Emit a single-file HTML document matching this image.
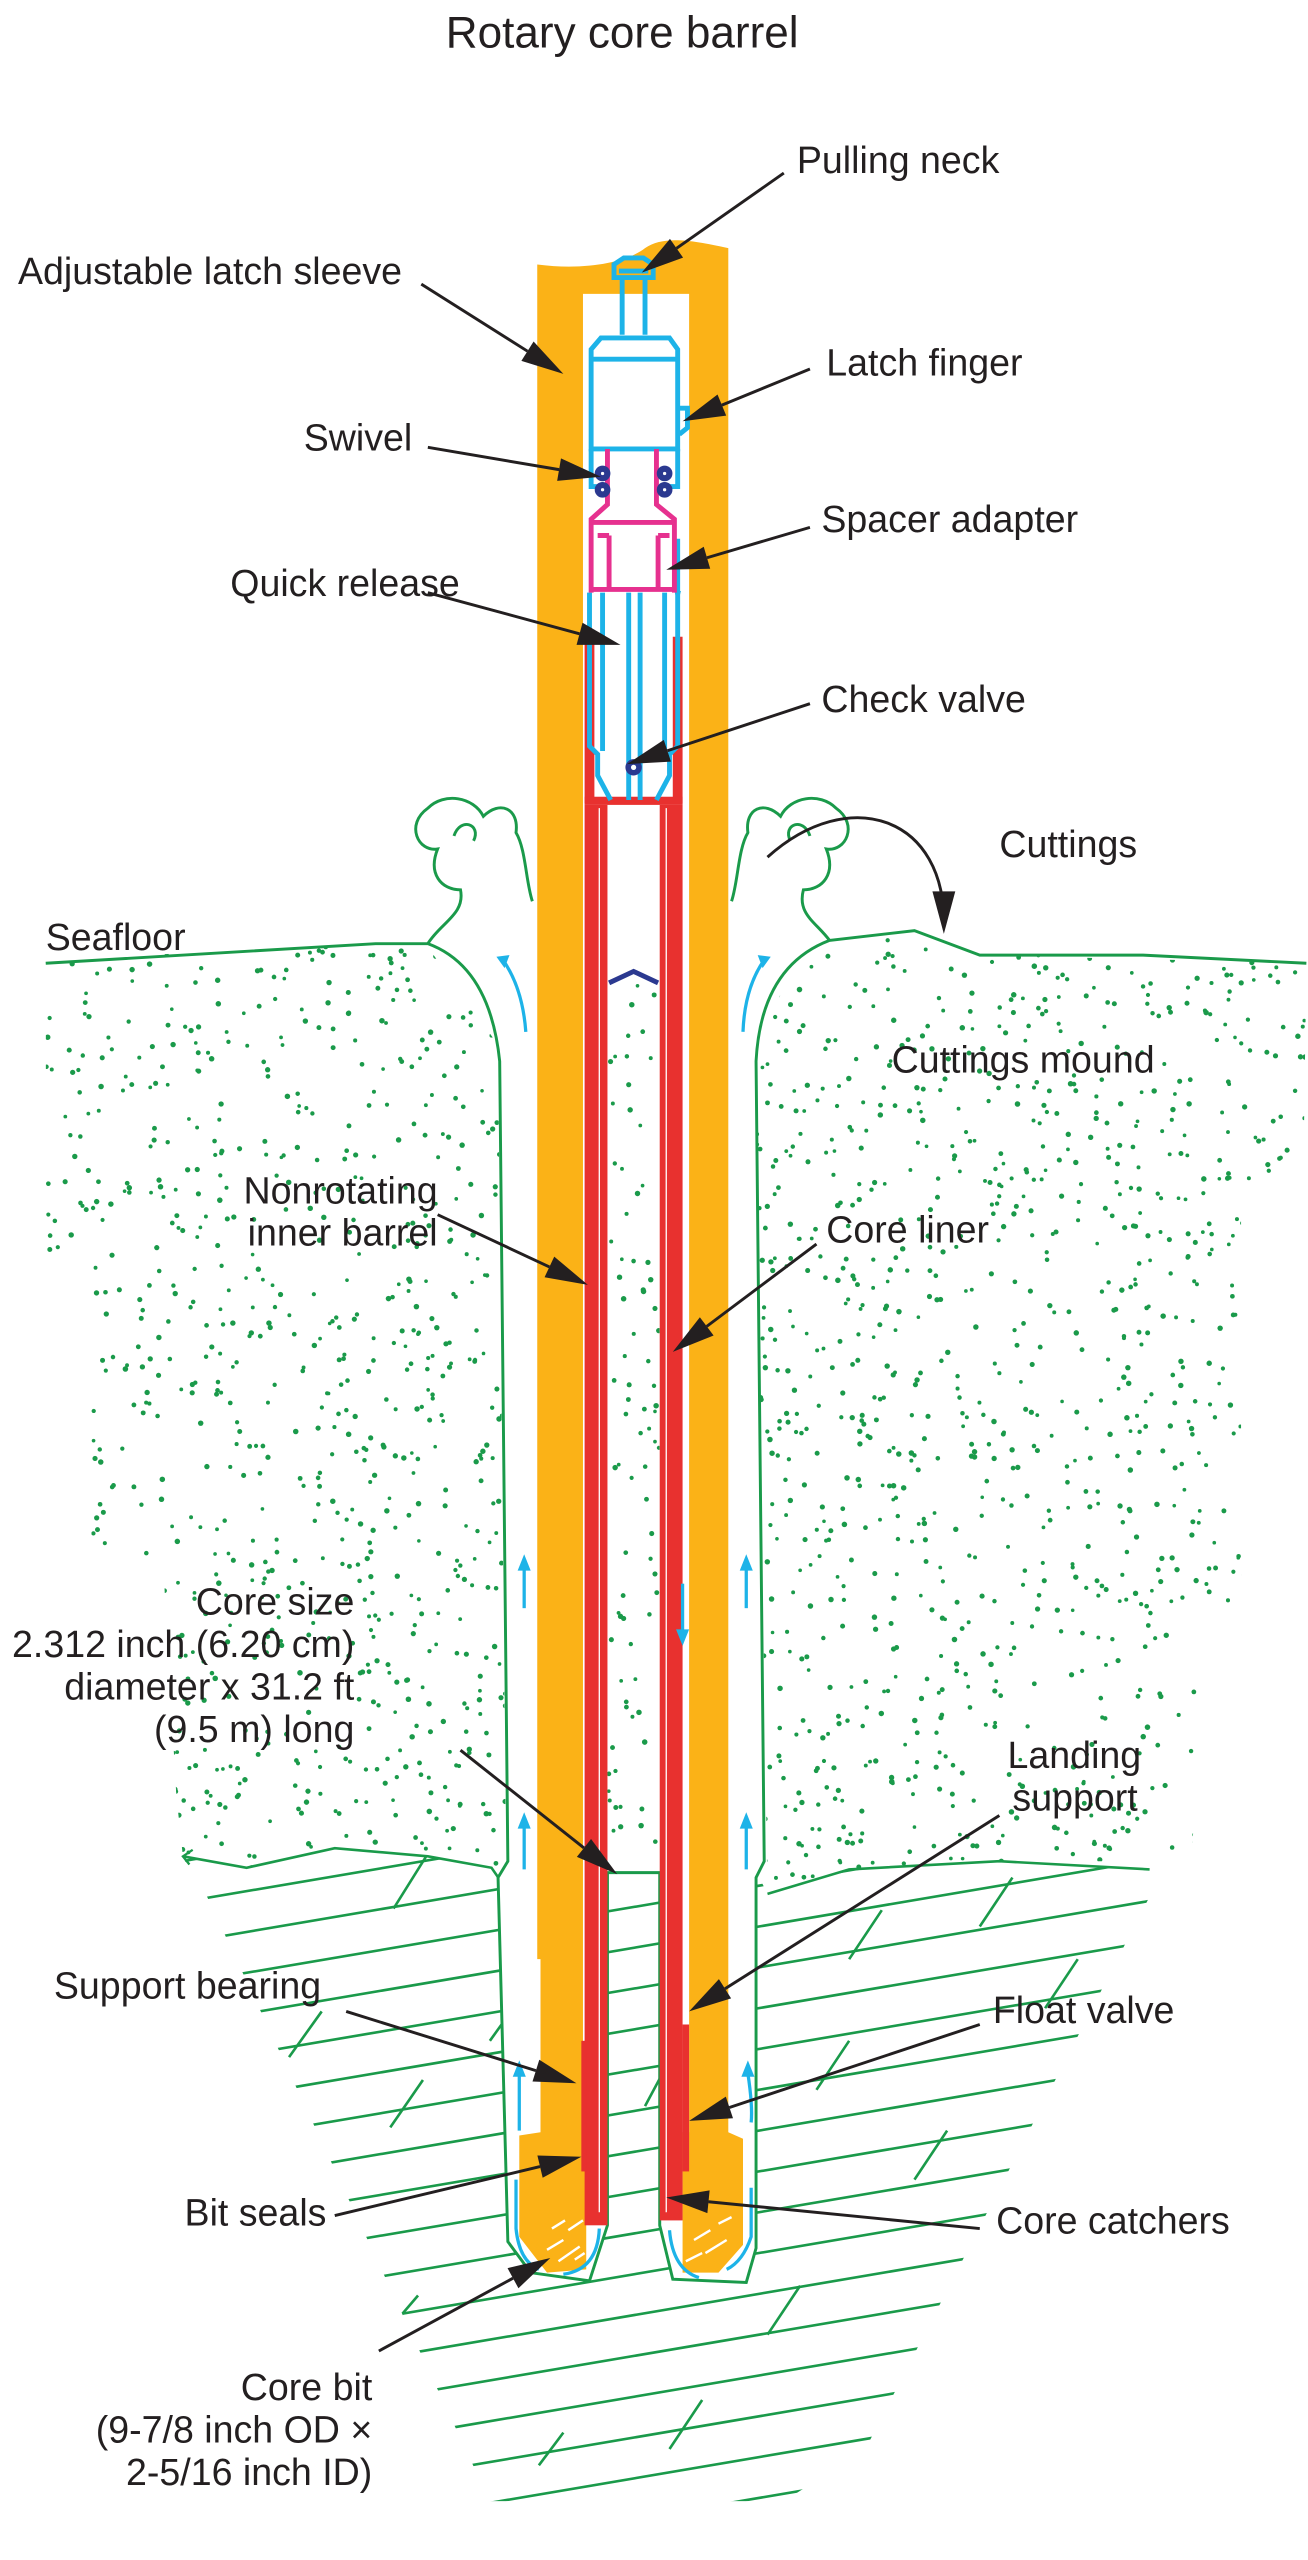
<!DOCTYPE html>
<html><head><meta charset="utf-8"><style>
html,body{margin:0;padding:0;background:#fff;width:1308px;height:2560px;overflow:hidden}
svg{display:block}
text{font-family:"Liberation Sans",Arial,sans-serif;fill:#231f20}
</style></head><body>
<svg id="s" xmlns="http://www.w3.org/2000/svg" width="1308" height="2560" viewBox="0 0 801 1568" preserveAspectRatio="none">
<defs>
<clipPath id="rockc"><polygon points="112,1137 151,1144 205,1132 262,1137 301,1144 310,1157 465,1150 470,1160 520,1145 612,1140 704,1145 710,1150 530,1500 480,1532 300,1532 126,1160 118,1150"/></clipPath>
<clipPath id="sandl"><polygon points="28,588 230,578 262,580 305,640 310,1157 301,1144 262,1137 205,1132 151,1144 112,1137 108,1100 100,960 56,950 56,780 28,770"/></clipPath>
<clipPath id="sandr"><polygon points="490,578 560,570 600,585 800,590 798,730 760,740 760,980 735,1000 730,1140 612,1140 520,1145 470,1160 462,650"/></clipPath>
<clipPath id="corec"><rect x="372" y="600" width="32" height="545"/></clipPath>
</defs>

<text x="273" y="29" font-size="27">Rotary core barrel</text>

<g id="dots" fill="#1a9a4a"></g>
<g id="hatch" clip-path="url(#rockc)" stroke="#1a9a4a" stroke-width="1.6" fill="none"></g>
<path d="M112,1137 L151,1144 L205,1132 L262,1137 L301,1144 L310,1157 M470,1160 L520,1145 L612,1140 L704,1145" stroke="#1a9a4a" stroke-width="1.6" fill="none"/>
<path d="M118,1133 L112,1137 L116,1142" stroke="#1a9a4a" stroke-width="1.4" fill="none"/>

<path d="M262,578 Q300,592 306,650 L311,1140 L305,1150 L311,1373 L325,1392 L361,1397 L372,1363 L372,578 Z" fill="#fff"/>
<path d="M404,578 L404,1363 L412,1396 L457,1398 L463,1377 L463,1150 L468,1140 L463,650 Q466,592 508,576 Z" fill="#fff"/>
<rect x="372" y="578" width="32" height="22" fill="#fff"/>
<g stroke="#1a9a4a" stroke-width="1.8" fill="none">
<path d="M28,590 L230,578 L262,578 Q300,592 306,650 L311,1140 L305,1150 L311,1373 L325,1392 L361,1397 L372,1363 L372,1147 L404,1147 L404,1363 L412,1396 L457,1398 L463,1377 L463,1150 L468,1140 L463,650 Q466,592 508,576 L560,570 L600,585 L700,585 L800,590"/>
<path d="M262,578 C270,565 285,560 282,545 C270,545 262,535 268,520 C256,522 248,505 262,495 C272,485 290,488 296,500 C306,490 318,495 316,510 C322,520 322,540 326,552"/>
<path d="M278,512 C282,500 295,505 290,515"/>
<path d="M508,576 C500,565 488,560 492,545 C504,545 512,535 506,520 C518,522 526,505 512,495 C502,485 484,488 478,500 C468,490 456,495 458,510 C452,520 452,540 448,552"/>
<path d="M496,512 C492,500 479,505 484,515"/>
</g>

<g fill="#fbb217">
<path d="M329,162 C360,166 385,160 395,152 C405,145 420,146 446,152 L446,1306 L455,1310 L455,1375 L440,1392 L418,1392 L418,1306 L422,1306 L422,180 L357,180 L357,1306 L359,1306 L359,1390 L335,1392 L318,1370 L318,1308 L331,1306 L331,1200 L329,1200 Z"/>
</g>
<g stroke="#fff" stroke-width="1.5">
<path d="M335,1378 L345,1372 M342,1385 L355,1376 M348,1366 L357,1360 M338,1365 L346,1360 M352,1384 L358,1380"/>
<path d="M425,1372 L435,1366 M432,1380 L445,1372 M440,1362 L448,1358 M420,1385 L430,1380"/>
</g>

<g fill="#e8312f">
<rect x="358" y="390" width="6" height="102"/>
<rect x="412" y="390" width="6" height="102"/>
<rect x="358" y="488" width="60" height="5"/>
<rect x="358" y="493" width="14" height="870"/>
<rect x="404" y="493" width="14" height="867"/>
</g>
<g stroke="#fff" stroke-width="0.8"><line x1="367" y1="495" x2="367" y2="1355"/><line x1="408" y1="495" x2="408" y2="1355"/></g>
<g fill="#e8312f"><rect x="356" y="1250" width="3" height="80"/><rect x="418" y="1240" width="4" height="90"/></g>

<path d="M373,602 L388,595 L403,602" stroke="#2b3990" stroke-width="3" fill="none"/>

<g stroke="#1db3e8" stroke-width="3" fill="none">
<path d="M376,170 L376,162 L382,158 L394,158 L400,162 L400,170 Z M379,166 L397,166"/>
<path d="M381,171 L381,205 M395,171 L395,205"/>
<path d="M362,275 L362,214 L368,207 L410,207 L415,214 L415,275 Z M363,220 L414,220"/>
<path d="M362,275 L362,298 L372,298 M415,275 L415,298 L405,298"/>
<path d="M416,250 L421,250 L421,262 L416,266"/>
<path d="M361,363 L361,457 L366,462 L366,475 L374,490 M415,363 L415,457 L410,462 L410,475 L402,490"/>
<path d="M369,363 L369,460 M385,363 L385,490 M392,363 L392,490 M407,363 L407,460"/>
<path d="M415,330 L415,362"/>
</g>
<path d="M413,362 L417,362 L415,370 Z" fill="#1db3e8"/>
<g stroke="#e6318f" stroke-width="3" fill="none">
<path d="M372,275 L372,309 L362,318 L362,363 M402,275 L402,309 L413,318 L413,363"/>
<path d="M362,320 L413,320 M362,361 L413,361"/>
<path d="M373,328 L373,360 M403,328 L403,360 M366,328 L373,328 M403,328 L410,328"/>
</g>
<g fill="#2b3990">
<circle cx="369" cy="290" r="4.8"/><circle cx="369" cy="300" r="4.8"/>
<circle cx="407" cy="290" r="4.8"/><circle cx="407" cy="300" r="4.8"/>
<circle cx="388" cy="470" r="5"/>
</g>
<g fill="#fff"><circle cx="369" cy="290" r="1"/><circle cx="369" cy="300" r="1"/><circle cx="407" cy="290" r="1"/><circle cx="407" cy="300" r="1"/><circle cx="388" cy="470" r="1.6"/></g>

<g stroke="#1db3e8" stroke-width="2" fill="none">
<path d="M322,632 Q320,605 308,588"/><path d="M455,632 Q456,605 468,588"/>
<line x1="321" y1="985" x2="321" y2="960"/><line x1="457" y1="985" x2="457" y2="960"/>
<line x1="321" y1="1145" x2="321" y2="1118"/><line x1="457" y1="1145" x2="457" y2="1118"/>
<line x1="418" y1="970" x2="418" y2="1000"/>
<path d="M318,1305 L318,1270"/><path d="M460,1300 Q461,1290 458,1270"/>
<path d="M316,1335 L316,1365 Q318,1385 330,1390"/><path d="M460,1340 L460,1370 Q455,1385 445,1390"/>
<path d="M367,1365 Q366,1390 345,1393"/><path d="M410,1366 Q412,1390 428,1395"/>
</g>
<g fill="#1db3e8">
<path d="M304,586 L312,585 L309,593 Z"/><path d="M472,586 L464,585 L467,593 Z"/>
<path d="M317,962 L325,962 L321,952 Z"/><path d="M453,962 L461,962 L457,952 Z"/>
<path d="M317,1120 L325,1120 L321,1110 Z"/><path d="M453,1120 L461,1120 L457,1110 Z"/>
<path d="M414,998 L422,998 L418,1008 Z"/>
<path d="M314,1272 L322,1272 L318,1262 Z"/><path d="M454,1272 L462,1272 L458,1262 Z"/>
</g>

<g font-size="23">
<text x="488" y="106">Pulling neck</text>
<text x="11" y="174">Adjustable latch sleeve</text>
<text x="506" y="230">Latch finger</text>
<text x="186" y="276">Swivel</text>
<text x="503" y="326">Spacer adapter</text>
<text x="141" y="365">Quick release</text>
<text x="503" y="436">Check valve</text>
<text x="612" y="525">Cuttings</text>
<text x="28" y="582">Seafloor</text>
<text x="546" y="657">Cuttings mound</text>
<text x="268" y="737" text-anchor="end">Nonrotating</text>
<text x="268" y="763" text-anchor="end">inner barrel</text>
<text x="506" y="761">Core liner</text>
<text x="217" y="989" text-anchor="end">Core size</text>
<text x="217" y="1015" text-anchor="end">2.312 inch (6.20 cm)</text>
<text x="217" y="1041" text-anchor="end">diameter x 31.2 ft</text>
<text x="217" y="1067" text-anchor="end">(9.5 m) long</text>
<text x="617" y="1083">Landing</text>
<text x="620" y="1109">support</text>
<text x="33" y="1224">Support bearing</text>
<text x="608" y="1239">Float valve</text>
<text x="113" y="1363">Bit seals</text>
<text x="610" y="1368">Core catchers</text>
<text x="228" y="1470" text-anchor="end">Core bit</text>
<text x="228" y="1496" text-anchor="end">(9-7/8 inch OD ×</text>
<text x="228" y="1522" text-anchor="end">2-5/16 inch ID)</text>
</g>
<path d="M470,525 C520,480 580,500 578,568" stroke="#231f20" stroke-width="1.8" fill="none"/>
<g id="arrows"></g>
</svg>
<script>
(function(){
var NS="http://www.w3.org/2000/svg";
function el(p,n,a){var e=document.createElementNS(NS,n);for(var k in a)e.setAttribute(k,a[k]);p.appendChild(e);return e;}
var seed=12345;function r(){seed=(seed*1103515245+12345)%2147483648;return seed/2147483648;}
var dots=document.getElementById('dots');
function scatter(clip,x0,x1,y0,y1,n){var g=el(dots,'g',{'clip-path':'url(#'+clip+')'});for(var i=0;i<n;i++){el(g,'circle',{cx:(x0+r()*(x1-x0)).toFixed(1),cy:(y0+r()*(y1-y0)).toFixed(1),r:(1.1+r()*0.6).toFixed(2)});}}
scatter('sandl',28,312,575,1165,900);
scatter('sandr',460,800,565,1165,1150);
scatter('corec',372,404,600,1145,80);
var h=document.getElementById('hatch');
for(var k=0;k<23;k++){var y0=1159+k*25;
 var xa=Math.max(100,(y0-1538)/0.17), xb=Math.min(720,(y0-1120)/0.17);
 if(xb<=xa)continue;
 el(h,'line',{x1:xa.toFixed(1),y1:(y0-0.17*xa).toFixed(1),x2:xb.toFixed(1),y2:(y0-0.17*xb).toFixed(1)});}
var diag=[[241,1169,261,1137],[177,1260,197,1232],[239,1303,259,1274],[300,1250,310,1236],[244,1420,256,1406],[520,1200,540,1170],[600,1180,620,1150],[560,1335,580,1305],[470,1430,490,1400],[395,1290,410,1262],[410,1500,430,1470],[640,1230,660,1200],[500,1280,520,1250],[330,1510,345,1490]];
diag.forEach(function(d){el(h,'line',{x1:d[0],y1:d[1],x2:d[2],y2:d[3]});});
var A=document.getElementById('arrows');
var arr=[[480,106,393,167],[258,174,345,229],[496,226,418,258],[262,274,368,292],[496,323,408,349],[262,363,380,395],[496,431,384,468],
[268,744,360,787],[500,762,412,828],[282,1072,378,1148],[612,1112,422,1232],[212,1232,353,1276],[600,1240,422,1299],[205,1357,356,1321],[600,1365,408,1346],[232,1440,337,1383]];
arr.forEach(function(a){var dx=a[2]-a[0],dy=a[3]-a[1],L=Math.sqrt(dx*dx+dy*dy),ux=dx/L,uy=dy/L,hl=26,hw=7;
var bx=a[2]-ux*hl,by=a[3]-uy*hl;
el(A,'line',{x1:a[0],y1:a[1],x2:bx,y2:by,stroke:'#231f20','stroke-width':1.8});
el(A,'polygon',{points:a[2]+','+a[3]+' '+(bx-uy*hw)+','+(by+ux*hw)+' '+(bx+uy*hw)+','+(by-ux*hw),fill:'#231f20'});});
el(A,'polygon',{points:'578,572 571,546 585,546',fill:'#231f20'});
})();
</script>
</body></html>
